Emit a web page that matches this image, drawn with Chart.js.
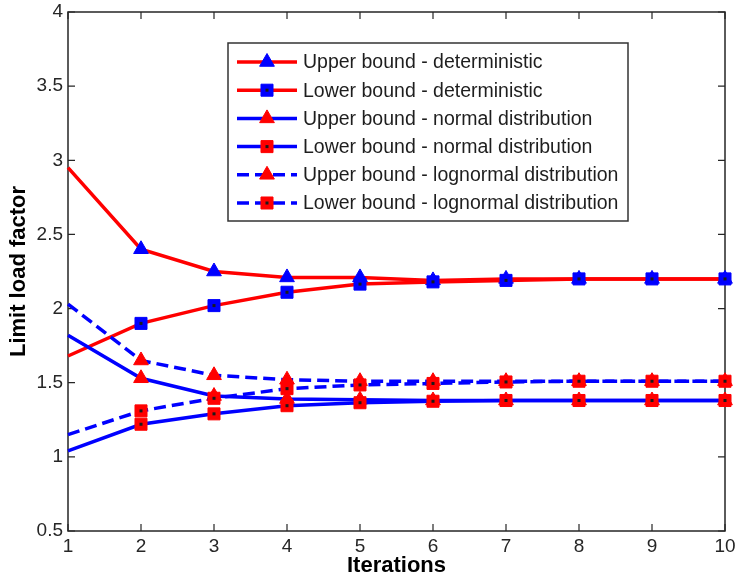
<!DOCTYPE html>
<html>
<head>
<meta charset="utf-8">
<script src="https://cdn.jsdelivr.net/npm/chart.js@4/dist/chart.umd.min.js"></script>
<style>
  html, body { margin: 0; padding: 0; background: #fff; }
  #wrap { width: 736px; height: 580px; position: relative; }
</style>
</head>
<body>
<div id="wrap"><canvas id="limitChart"></canvas></div>
<script>
// iterations on the x axis
const iterations = [1, 2, 3, 4, 5, 6, 7, 8, 9, 10];

// limit load factor
const upperDeterministic = [2.95, 2.40, 2.25, 2.21, 2.21, 2.19, 2.20, 2.20, 2.20, 2.20];
const lowerDeterministic = [1.68, 1.90, 2.02, 2.11, 2.165, 2.18, 2.19, 2.20, 2.20, 2.20];
const upperNormal = [1.82, 1.53, 1.41, 1.39, 1.385, 1.38, 1.38, 1.38, 1.38, 1.38];
const lowerNormal = [1.04, 1.22, 1.29, 1.345, 1.365, 1.375, 1.38, 1.38, 1.38, 1.38];
const upperLognormal = [2.03, 1.65, 1.55, 1.52, 1.51, 1.51, 1.51, 1.51, 1.51, 1.51];
const lowerLognormal = [1.15, 1.31, 1.395, 1.46, 1.485, 1.495, 1.505, 1.51, 1.51, 1.51];

const yTicks = [0.5, 1, 1.5, 2, 2.5, 3, 3.5, 4];

const RED = '#ff0000';
const BLUE = '#0000ff';
const FONT = '"Liberation Sans", Arial, sans-serif';

function toPoints(values) {
    return iterations.map((it, i) => ({ x: it, y: values[i] }));
}

function markerSize(marker) {
    return 8.5;
}

function series(label, values, lineColor, markerColor, marker, dashed, idx) {
    return {
        label: label,
        data: toPoints(values),
        borderColor: lineColor,
        borderWidth: 3.5,
        borderDash: dashed ? [12, 6] : [],
        pointStyle: marker,
        pointRadius: ctx => ctx.dataIndex === 0 ? 0 : markerSize(marker),
        pointHoverRadius: 0,
        pointBackgroundColor: markerColor,
        pointBorderColor: markerColor,
        pointBorderWidth: 1,
        tension: 0,
        fill: false,
        clip: false,
        order: 6 - idx
    };
}

// box, inward ticks, centre dots on square markers and the boxed legend
const matlabLook = {
    id: 'matlabLook',
    beforeDatasetsDraw(chart) {
        const { ctx, chartArea: a, scales } = chart;
        ctx.save();
        ctx.strokeStyle = '#262626';
        ctx.lineWidth = 1.5;
        ctx.strokeRect(a.left, a.top, a.right - a.left, a.bottom - a.top);
        ctx.lineWidth = 1.2;
        ctx.beginPath();
        iterations.forEach(v => {
            const x = scales.x.getPixelForValue(v);
            ctx.moveTo(x, a.bottom); ctx.lineTo(x, a.bottom - 7);
            ctx.moveTo(x, a.top); ctx.lineTo(x, a.top + 7);
        });
        yTicks.forEach(v => {
            const y = scales.y.getPixelForValue(v);
            ctx.moveTo(a.left, y); ctx.lineTo(a.left + 7, y);
            ctx.moveTo(a.right, y); ctx.lineTo(a.right - 7, y);
        });
        ctx.stroke();
        ctx.restore();
    },
    afterDatasetsDraw(chart) {
        const { ctx, chartArea: a } = chart;
        ctx.save();
        ctx.fillStyle = '#1a1a1a';
        chart.data.datasets.forEach((ds, i) => {
            if (ds.pointStyle !== 'rect') return;
            chart.getDatasetMeta(i).data.forEach((pt, j) => {
                if (j === 0) return;
                ctx.fillRect(pt.x - 1.5, pt.y - 1.5, 3, 3);
            });
        });

        // legend box
        const bx = a.left + 160, by = 43, bw = 400, bh = 178;
        ctx.fillStyle = '#fff';
        ctx.fillRect(bx, by, bw, bh);
        ctx.strokeStyle = '#333';
        ctx.lineWidth = 1.5;
        ctx.strokeRect(bx, by, bw, bh);
        ctx.font = '19.5px ' + FONT;
        ctx.textBaseline = 'middle';
        chart.data.datasets.forEach((ds, i) => {
            const y = by + 19 + i * 28.2;
            ctx.strokeStyle = ds.borderColor;
            ctx.lineWidth = ds.borderWidth;
            ctx.setLineDash(ds.borderDash);
            ctx.beginPath();
            ctx.moveTo(bx + 9, y);
            ctx.lineTo(bx + 69, y);
            ctx.stroke();
            ctx.setLineDash([]);
            ctx.fillStyle = ds.pointBackgroundColor;
            ctx.strokeStyle = ds.pointBorderColor;
            ctx.lineWidth = 1;
            Chart.helpers.drawPoint(ctx, {
                pointStyle: ds.pointStyle,
                radius: markerSize(ds.pointStyle),
                rotation: 0,
                borderWidth: 1
            }, bx + 39, y);
            if (ds.pointStyle === 'rect') {
                ctx.fillStyle = '#1a1a1a';
                ctx.fillRect(bx + 37.5, y - 1.5, 3, 3);
            }
            ctx.fillStyle = '#1e1e1e';
            ctx.textAlign = 'left';
            ctx.fillText(ds.label, bx + 75, y + 1);
        });
        ctx.restore();
    }
};

new Chart(document.getElementById('limitChart').getContext('2d'), {
    type: 'line',
    data: {
        datasets: [
            series('Upper bound - deterministic', upperDeterministic, RED, BLUE, 'triangle', false, 0),
            series('Lower bound - deterministic', lowerDeterministic, RED, BLUE, 'rect', false, 1),
            series('Upper bound - normal distribution', upperNormal, BLUE, RED, 'triangle', false, 2),
            series('Lower bound - normal distribution', lowerNormal, BLUE, RED, 'rect', false, 3),
            series('Upper bound - lognormal distribution', upperLognormal, BLUE, RED, 'triangle', true, 4),
            series('Lower bound - lognormal distribution', lowerLognormal, BLUE, RED, 'rect', true, 5)
        ]
    },
    options: {
        responsive: true,
        maintainAspectRatio: false,
        animation: false,
        events: [],
        layout: {
            padding: { top: 12, right: 11, left: 0, bottom: 0 }
        },
        plugins: {
            legend: { display: false },
            tooltip: { enabled: false }
        },
        scales: {
            x: {
                type: 'linear',
                min: 1,
                max: 10,
                afterFit: s => {
                    s.height = 49;
                    s.paddingLeft = 0;
                    s.paddingRight = 0;
                },
                grid: { display: false, drawTicks: false },
                border: { display: false },
                ticks: {
                    stepSize: 1,
                    padding: 4,
                    color: '#262626',
                    font: { family: FONT, size: 19 }
                },
                title: {
                    display: true,
                    text: 'Iterations',
                    color: '#000',
                    padding: { top: 1, bottom: 1 },
                    font: { family: FONT, size: 22, weight: 'bold' }
                }
            },
            y: {
                min: 0.5,
                max: 4,
                afterFit: s => {
                    s.width = 68;
                    s.paddingTop = 0;
                    s.paddingBottom = 0;
                },
                afterBuildTicks: s => { s.ticks = yTicks.map(v => ({ value: v })); },
                grid: { display: false, drawTicks: false },
                border: { display: false },
                ticks: {
                    padding: 5,
                    color: '#262626',
                    font: { family: FONT, size: 19 },
                    callback: v => String(v)
                },
                title: {
                    display: true,
                    text: 'Limit load factor',
                    color: '#000',
                    padding: { top: 6, bottom: 6 },
                    font: { family: FONT, size: 22, weight: 'bold' }
                }
            }
        }
    },
    plugins: [matlabLook]
});
</script>
</body>
</html>
